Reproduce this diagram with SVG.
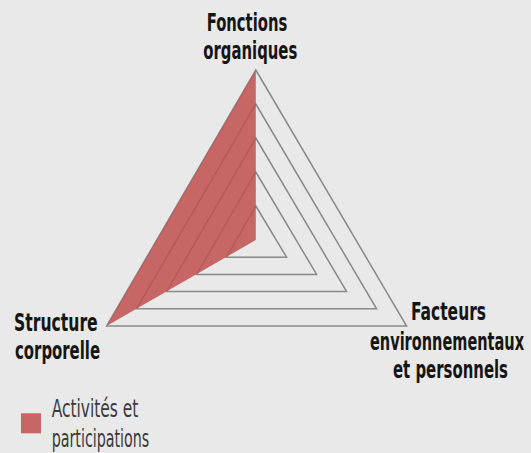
<svg xmlns="http://www.w3.org/2000/svg" width="531" height="453" viewBox="0 0 531 453">
<style>
.bg{fill:#e9e9e9}
.grid{fill:none;stroke:#8a8a8a;stroke-width:1.5;stroke-linejoin:miter}
.series{fill:#c0504d;fill-opacity:0.85;stroke:none}
.lbl{font-family:"Liberation Sans Narrow","DejaVu Sans Condensed","Liberation Sans",sans-serif;font-weight:bold;font-size:24px;fill:#151515}
.leg{font-family:"Liberation Sans Narrow","DejaVu Sans Condensed","Liberation Sans",sans-serif;font-size:25px;fill:#3a3a3a}
</style>
<rect class="bg" x="0" y="0" width="531" height="453"/>
<g id="connectors">
<polygon class="grid" points="255.8,206 286.6,257.2 226.6,257.2"/>
<polygon class="grid" points="255.8,172 316.6,274.4 196.6,274.4"/>
<polygon class="grid" points="255.8,138 346.6,291.6 166.6,291.6"/>
<polygon class="grid" points="255.8,104 376.6,308.8 136.6,308.8"/>
<polygon class="grid" points="255.8,70 406.6,326 106.6,326"/>
</g>
<g id="series-activites">
<polygon class="series" points="255.8,70 255.8,240 106.6,326"/>
</g>
<g id="node-fonctions">
<text class="lbl" x="206.7" y="30.7" textLength="80.6" lengthAdjust="spacingAndGlyphs">Fonctions</text>
<text class="lbl" x="203.3" y="59.3" textLength="94" lengthAdjust="spacingAndGlyphs">organiques</text>
</g>
<g id="node-structure">
<text class="lbl" x="14" y="330.7" textLength="83.7" lengthAdjust="spacingAndGlyphs">Structure</text>
<text class="lbl" x="15" y="359" textLength="85" lengthAdjust="spacingAndGlyphs">corporelle</text>
</g>
<g id="node-facteurs">
<text class="lbl" transform="translate(411,320) scale(0.78,1)" x="0" y="0" textLength="96.2" lengthAdjust="spacingAndGlyphs">Facteurs</text>
<text class="lbl" transform="translate(370,350) scale(0.7,1)" x="0" y="0" textLength="220" lengthAdjust="spacingAndGlyphs">environnementaux</text>
<text class="lbl" transform="translate(393,378.3) scale(0.78,1)" x="0" y="0" textLength="147.4" lengthAdjust="spacingAndGlyphs">et personnels</text>
</g>
<g id="legend">
<rect x="21" y="413.3" width="20" height="20" fill="#c0504d" fill-opacity="0.85"/>
<text class="leg" x="51.7" y="417.3" textLength="86.6" lengthAdjust="spacingAndGlyphs">Activités et</text>
<text class="leg" x="51.7" y="446.7" textLength="97.6" lengthAdjust="spacingAndGlyphs">participations</text>
</g>
</svg>
